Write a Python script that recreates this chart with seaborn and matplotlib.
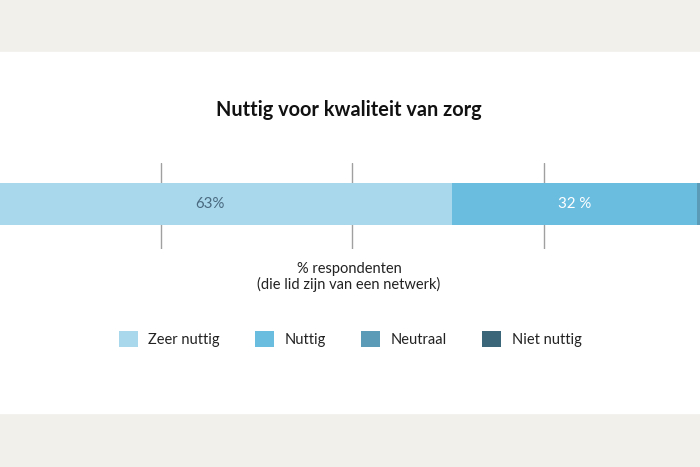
import numpy as np
import pandas as pd
import seaborn as sns
import matplotlib.pyplot as plt
from matplotlib.patches import Patch, Rectangle

# data
categories = ['Zeer nuttig', 'Nuttig', 'Neutraal', 'Niet nuttig']
values = [63, 32, 4, 1]
bar_labels = ['63%', '32 %', '', '']
colors = ['#a9d7ec', '#6bbde0', '#5b9bb8', '#3b6578']
label_colors = ['#4a6a80', '#ffffff', '#ffffff', '#ffffff']
grid_ticks = [25, 50, 75]

df = pd.DataFrame({'categorie': categories, 'pct': values})
df['cum'] = np.cumsum(df['pct'])
df['rij'] = 'zorg'

sns.set_style('white')
plt.rcParams['font.family'] = ['Lato', 'DejaVu Sans']

fig = plt.figure(figsize=(7, 4.67), dpi=100)
fig.patch.set_facecolor('#f2f0eb')
fig.patches.append(Rectangle((0, (467 - 413) / 467), 1, (413 - 52) / 467,
                             transform=fig.transFigure, color='white', zorder=-5))

ax = fig.add_axes([-31 / 700, (467 - 249) / 467, 766 / 700, 86 / 467])
ax.patch.set_alpha(0)
ax.set_zorder(2)

# stacked bar: draw cumulative totals from largest to smallest
for i in reversed(range(len(df))):
    sns.barplot(data=df.iloc[[i]], x='cum', y='rij', orient='h',
                color=colors[i], saturation=1, width=1, ax=ax, zorder=2,
                edgecolor='none', linewidth=0)

for v in grid_ticks:
    ax.axvline(v, color='#a0a0a0', lw=1, zorder=0)

for i, row in df.iterrows():
    if bar_labels[i]:
        ax.text(row['cum'] - row['pct'] / 2, 0, bar_labels[i], ha='center', va='center',
                fontsize=10.8, color=label_colors[i], zorder=3)

ax.set_xlim(0, 100)
ax.set_ylim(1.071, -0.976)
ax.set_xlabel('')
ax.set_ylabel('')
ax.set_xticks([])
ax.set_yticks([])
sns.despine(ax=ax, left=True, bottom=True)

fig.text(349 / 700, (467 - 110) / 467, 'Nuttig voor kwaliteit van zorg',
         ha='center', va='center', fontsize=14.3, fontweight='bold', color='#111111')
fig.text(349 / 700, (467 - 277) / 467, '% respondenten\n(die lid zijn van een netwerk)',
         ha='center', va='center', fontsize=10.5, color='#222222', linespacing=1.0)

handles = [Patch(facecolor=c, edgecolor='none') for c in colors]
fig.legend(handles, categories, loc='center', bbox_to_anchor=(350 / 700, (467 - 339) / 467),
           ncol=4, frameon=False, fontsize=10.5, handlelength=1.3, handleheight=1.3,
           handletextpad=0.7, columnspacing=2.45, labelcolor='#222222')

fig.savefig('out.png', dpi=100, facecolor=fig.get_facecolor())
